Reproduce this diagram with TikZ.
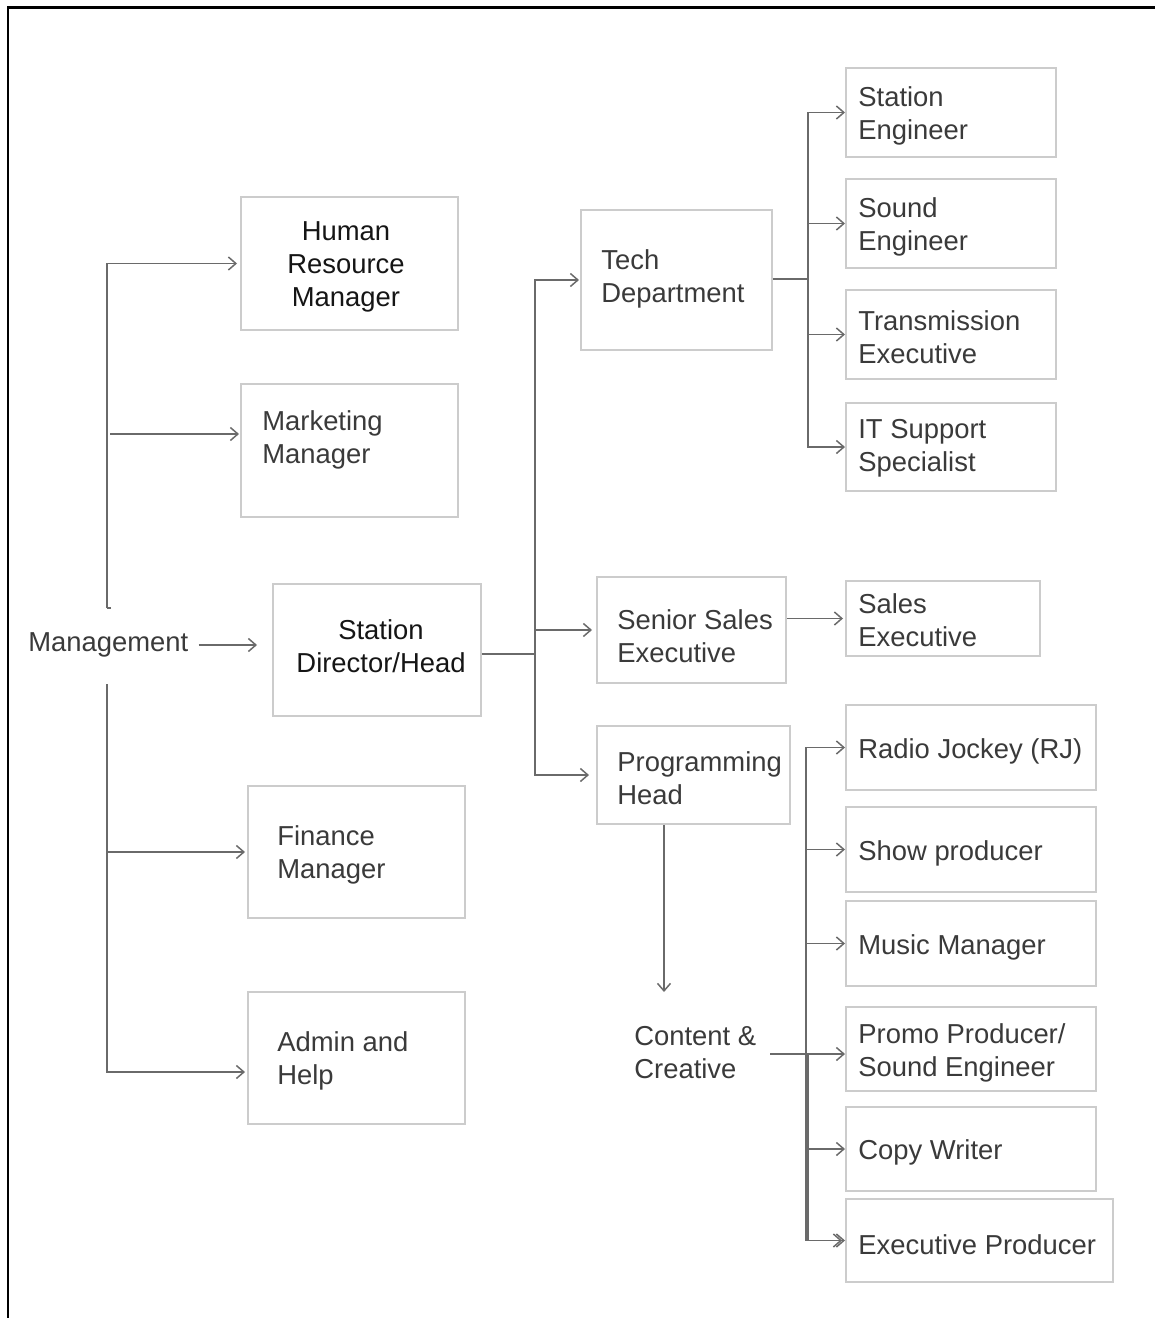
\documentclass[tikz,border=0pt]{standalone}
\usepackage{fontspec}
\setmainfont{Liberation Sans}
\usetikzlibrary{arrows.meta}
\definecolor{boxline}{HTML}{CCCCCC}
\definecolor{linegray}{HTML}{6A6A6A}
\definecolor{ink}{HTML}{3A3A3A}
\definecolor{darkink}{HTML}{151515}
\begin{document}
\begin{tikzpicture}[x=0.02cm,y=-0.02cm,
  box/.style={draw=boxline, line width=0.04cm, inner sep=0pt},
  lbl/.style={inner sep=0pt, text=ink, font=\fontsize{15.6}{18.8}\selectfont, align=left, anchor=west, yshift=-0.06cm},
  clbl/.style={inner sep=0pt, text=darkink, font=\fontsize{15.6}{18.8}\selectfont, align=center, yshift=-0.06cm},
  plain/.style={draw=linegray, line width=0.03cm},
  conn/.style={plain, -{Straight Barb[length=0.15cm,width=0.26cm]}}]
\useasboundingbox (0,0) rectangle (1155,1318);

% frame
\draw[line width=0.06cm] (8,1318) -- (8,8) -- (1155,8);

% left column
\node[box, minimum width=4.34cm, minimum height=2.66cm] (hr)  at (349.5,263.5) {};
\node[box, minimum width=4.34cm, minimum height=2.66cm] (mkt) at (349.5,450.5) {};
\node[box, minimum width=4.16cm, minimum height=2.64cm] (sd)  at (377,650) {};
\node[box, minimum width=4.34cm, minimum height=2.64cm] (fin) at (356.5,852) {};
\node[box, minimum width=4.34cm, minimum height=2.64cm] (adm) at (356.5,1058) {};

\node[lbl] (mgmt) at (28,642) {Management};
\node[clbl] (hrT)  at (346,264) {Human\\Resource\\Manager};
\node[lbl]  (mktT) at (262,437) {Marketing\\Manager};
\node[clbl] (sdT)  at (381,643) {Station\\Director/Head};
\node[lbl]  (finT) at (277,852) {Finance\\Manager};
\node[lbl]  (admT) at (277,1058) {Admin and\\Help};

% middle column
\node[box, minimum width=3.82cm, minimum height=2.80cm] (tech) at (676.5,280) {};
\node[box, minimum width=3.78cm, minimum height=2.12cm] (ssx)  at (691.5,630) {};
\node[box, minimum width=3.86cm, minimum height=1.96cm] (prog) at (693.5,775) {};

\node[lbl] (techT) at (601,276) {Tech\\Department};
\node[lbl] (ssxT)  at (617,633) {Senior Sales\\Executive};
\node[lbl] (progT) at (617,775) {Programming\\Head};
\node[lbl] (cc)    at (634,1049.5) {Content \&\\Creative};

% right column
\node[box, minimum width=4.20cm, minimum height=1.78cm] (se)  at (951,112.5) {};
\node[box, minimum width=4.20cm, minimum height=1.78cm] (snd) at (951,223.5) {};
\node[box, minimum width=4.20cm, minimum height=1.78cm] (tx)  at (951,334.5) {};
\node[box, minimum width=4.20cm, minimum height=1.76cm] (it)  at (951,447) {};
\node[box, minimum width=3.88cm, minimum height=1.50cm] (sx)  at (943,618.5) {};
\node[box, minimum width=5.00cm, minimum height=1.70cm] (rj)  at (971,747.5) {};
\node[box, minimum width=5.00cm, minimum height=1.70cm] (sp)  at (971,849.5) {};
\node[box, minimum width=5.00cm, minimum height=1.70cm] (mm)  at (971,943.5) {};
\node[box, minimum width=5.00cm, minimum height=1.68cm] (pp)  at (971,1049) {};
\node[box, minimum width=5.00cm, minimum height=1.68cm] (cw)  at (971,1149) {};
\node[box, minimum width=5.34cm, minimum height=1.66cm] (ep)  at (979.5,1240.5) {};

\node[lbl] (seT)  at (858,113) {Station\\Engineer};
\node[lbl] (sndT) at (858,223.5) {Sound\\Engineer};
\node[lbl] (txT)  at (858,334.5) {Transmission\\Executive};
\node[lbl] (itT)  at (858,445.5) {IT Support\\Specialist};
\node[lbl] (sxT)  at (858,617.5) {Sales\\Executive};
\node[lbl] (rjT)  at (858,748) {Radio Jockey (RJ)};
\node[lbl] (spT)  at (858,850) {Show producer};
\node[lbl] (mmT)  at (858,944) {Music Manager};
\node[lbl] (ppT)  at (858,1049.5) {Promo Producer/\\Sound Engineer};
\node[lbl] (cwT)  at (858,1149) {Copy Writer};
\node[lbl] (epT)  at (858,1242) {Executive Producer};

% management branches
\coordinate (mtop) at (107,608);
\coordinate (mbot) at (107,684);
\coordinate (mk)   at (107,434);
\coordinate (ad)   at (107,1072);
\draw[plain] ([xshift=0.08cm]mtop) -- (mtop);
\draw[conn, shorten >=0.06cm] (mtop) |- (hr.west);
\draw[conn, shorten >=0.02cm] ([xshift=0.06cm]mk) -- (mk -| mkt.west);
\draw[conn, shorten >=0.04cm] (mbot) |- (fin.west);
\draw[conn, shorten >=0.04cm] (mbot) -- (ad) -- (ad -| adm.west);
\draw[conn, shorten <=0.2cm, shorten >=0.3cm] (mgmt.east) -- (mgmt.east -| sd.west);

% station director branches
\coordinate (sj) at (535,654);
\draw[plain] (sd.east |- sj) -- (sj);
\draw[conn, shorten >=0.02cm] (sj) |- (tech.west);
\draw[conn, shorten >=0.08cm] (sj) |- (ssx.west);
\draw[conn, shorten >=0.14cm] (sj) |- (prog.west);

% tech branches
\coordinate (tj) at (808,279);
\draw[plain] (tech.east |- tj) -- (tj);
\foreach \n in {se,snd,tx,it} \draw[conn] (tj) |- (\n.west);

% sales
\draw[conn, shorten >=0.04cm] (sx.west -| ssx.east) -- (sx.west);

% programming
\coordinate (pc) at (664,992);
\draw[conn] (prog.south -| pc) -- (pc);

% content and creative branches
\coordinate (cj) at (806,1054);
\coordinate (cs) at (770,1054);
\draw[conn] (cs) -- (cj -| pp.west);
\foreach \n in {rj,sp,mm,cw} \draw[conn] (cj) |- (\n.west);
\draw[conn] (cj) |- (ep.west);
\draw[conn, shorten >=0.06cm] ([xshift=0.04cm]cj) |- (ep.west);
\end{tikzpicture}
\end{document}
